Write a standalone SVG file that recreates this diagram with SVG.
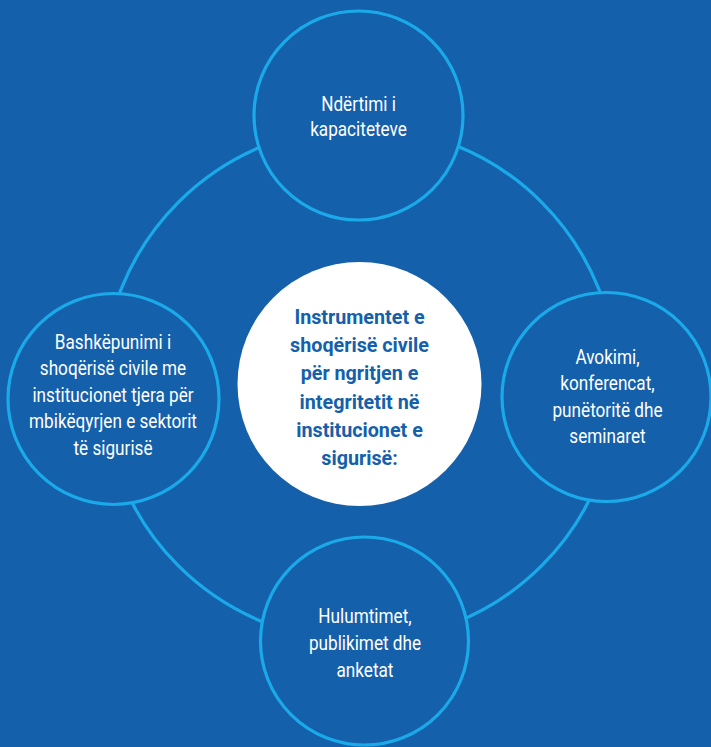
<svg xmlns="http://www.w3.org/2000/svg" width="711" height="747" viewBox="0 0 711 747">
<style>
.node{fill:#1560ab;stroke:#1aaae9;stroke-width:3.2}
.lbl{font-family:Roboto,"Liberation Sans",sans-serif;font-size:19.5px;fill:#ffffff;text-anchor:middle}
.ctr{font-family:Roboto,"Liberation Sans",sans-serif;font-size:21px;font-weight:bold;fill:#1560ab;text-anchor:middle}
</style>
<rect x="0" y="0" width="711" height="747" fill="#1560ab"/>
<g id="connectors">
<circle cx="360" cy="384" r="257" fill="none" stroke="#1aaae9" stroke-width="3.2"/>
</g>
<g id="top">
<circle class="node" cx="358.5" cy="115.5" r="104.5"/>
<text class="lbl" transform="translate(358.5,0) scale(0.88,1)"><tspan x="0" y="111">Ndërtimi i</tspan><tspan x="0" y="136">kapaciteteve</tspan></text>
</g>
<g id="left">
<circle class="node" cx="113.5" cy="399" r="105.5"/>
<text class="lbl" transform="translate(113,0) scale(0.88,1)"><tspan x="0" y="349">Bashkëpunimi i</tspan><tspan x="0" y="375.5">shoqërisë civile me</tspan><tspan x="0" y="402">institucionet tjera për</tspan><tspan x="0" y="428.5">mbikëqyrjen e sektorit</tspan><tspan x="0" y="455">të sigurisë</tspan></text>
</g>
<g id="right">
<circle class="node" cx="606.5" cy="397" r="104.5"/>
<text class="lbl" transform="translate(607.5,0) scale(0.88,1)"><tspan x="0" y="364">Avokimi,</tspan><tspan x="0" y="390.5">konferencat,</tspan><tspan x="0" y="417">punëtoritë dhe</tspan><tspan x="0" y="443.5">seminaret</tspan></text>
</g>
<g id="bottom">
<circle class="node" cx="364.5" cy="641" r="104"/>
<text class="lbl" transform="translate(365,0) scale(0.88,1)"><tspan x="0" y="623">Hulumtimet,</tspan><tspan x="0" y="650">publikimet dhe</tspan><tspan x="0" y="677">anketat</tspan></text>
</g>
<g id="center">
<circle cx="359.5" cy="384" r="122" fill="#ffffff"/>
<text class="ctr" transform="translate(359.5,0) scale(0.94,1)"><tspan x="0" y="324">Instrumentet e</tspan><tspan x="0" y="352.3">shoqërisë civile</tspan><tspan x="0" y="380.5">për ngritjen e</tspan><tspan x="0" y="408.7">integritetit në</tspan><tspan x="0" y="437">institucionet e</tspan><tspan x="0" y="465">sigurisë:</tspan></text>
</g>
</svg>
